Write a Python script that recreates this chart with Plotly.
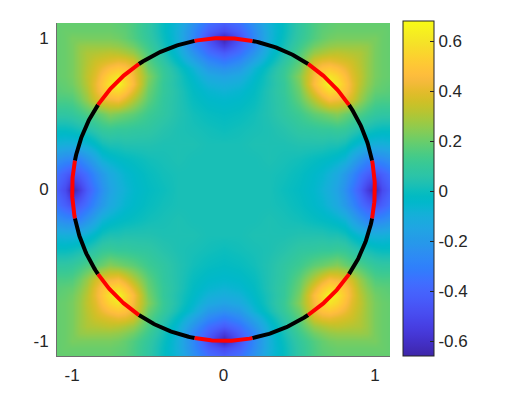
import numpy as np
import plotly.graph_objects as go

# Field, one quadrant, lower triangle (row i: x = knots[i], y = knots[0..i]).
knots = [0.0, 0.1, 0.2, 0.3, 0.4, 0.5, 0.6, 0.65, 0.7, 0.75, 0.8, 0.85, 0.9, 0.95, 1.0, 1.05, 1.1]
triangle = [
    [0.02],
    [0.02, 0.02],
    [0.02, 0.02, 0.02],
    [0.02, 0.02, 0.03, 0.03],
    [0.00, 0.01, 0.02, 0.03, 0.05],
    [-0.02, -0.01, 0.01, 0.04, 0.08, 0.12],
    [-0.05, -0.04, -0.01, 0.04, 0.09, 0.18, 0.32],
    [-0.08, -0.06, -0.02, 0.04, 0.10, 0.20, 0.40, 0.50],
    [-0.11, -0.09, -0.03, 0.03, 0.10, 0.22, 0.46, 0.56, 0.66],
    [-0.16, -0.13, -0.05, 0.03, 0.11, 0.24, 0.44, 0.54, 0.60, 0.55],
    [-0.24, -0.20, -0.08, 0.01, 0.10, 0.20, 0.42, 0.48, 0.50, 0.47, 0.42],
    [-0.33, -0.27, -0.15, -0.03, 0.07, 0.17, 0.36, 0.40, 0.41, 0.39, 0.37, 0.35],
    [-0.43, -0.36, -0.22, -0.07, 0.04, 0.15, 0.27, 0.30, 0.32, 0.33, 0.32, 0.31, 0.30],
    [-0.55, -0.42, -0.28, -0.09, 0.02, 0.12, 0.21, 0.24, 0.26, 0.27, 0.27, 0.27, 0.27, 0.26],
    [-0.66, -0.48, -0.27, -0.10, 0.00, 0.09, 0.16, 0.19, 0.21, 0.22, 0.22, 0.22, 0.22, 0.22, 0.22],
    [-0.50, -0.42, -0.26, -0.10, -0.01, 0.08, 0.15, 0.18, 0.19, 0.20, 0.20, 0.20, 0.20, 0.20, 0.20, 0.20],
    [-0.42, -0.36, -0.23, -0.09, -0.01, 0.08, 0.15, 0.17, 0.18, 0.19, 0.19, 0.19, 0.19, 0.19, 0.19, 0.19, 0.19],
]
tick_values = [-1, 0, 1]
tick_labels = ["-1", "0", "1"]
cbar_ticks = [-0.6, -0.4, -0.2, 0, 0.2, 0.4, 0.6]
cbar_labels = ["-0.6", "-0.4", "-0.2", "0", "0.2", "0.4", "0.6"]
# Arc boundaries in degrees, by colour
red_arcs = [(-11, 11), (34, 56), (79, 101), (124, 146), (169, 191), (214, 236), (259, 281), (304, 326)]
black_arcs = [(11, 34), (56, 79), (101, 124), (146, 169), (191, 214), (236, 259), (281, 304), (326, 349)]

parula = [
    (.2422,.1504,.6603),(.2504,.1650,.7076),(.2578,.1818,.7511),(.2647,.1978,.7952),(.2706,.2147,.8364),
    (.2751,.2342,.8710),(.2783,.2559,.8991),(.2803,.2782,.9221),(.2813,.3006,.9414),(.2810,.3228,.9579),
    (.2795,.3447,.9717),(.2760,.3667,.9829),(.2699,.3892,.9906),(.2602,.4123,.9952),(.2440,.4358,.9988),
    (.2206,.4603,.9973),(.1963,.4847,.9892),(.1834,.5074,.9798),(.1786,.5289,.9682),(.1764,.5499,.9520),
    (.1687,.5703,.9359),(.1540,.5902,.9218),(.1460,.6091,.9079),(.1380,.6276,.8973),(.1248,.6459,.8883),
    (.1113,.6635,.8763),(.0952,.6798,.8598),(.0689,.6948,.8394),(.0297,.7082,.8163),(.0036,.7203,.7917),
    (.0067,.7312,.7660),(.0433,.7411,.7394),(.0964,.7500,.7120),(.1408,.7584,.6842),(.1717,.7670,.6554),
    (.1938,.7758,.6251),(.2161,.7843,.5923),(.2470,.7918,.5567),(.2906,.7973,.5188),(.3406,.8008,.4789),
    (.3909,.8029,.4354),(.4456,.8024,.3909),(.5044,.7993,.3480),(.5616,.7942,.3045),(.6174,.7876,.2612),
    (.6720,.7793,.2227),(.7242,.7698,.1910),(.7738,.7598,.1646),(.8203,.7498,.1535),(.8634,.7406,.1596),
    (.9035,.7330,.1774),(.9393,.7288,.2100),(.9728,.7298,.2394),(.9956,.7434,.2371),(.9970,.7659,.2199),
    (.9952,.7893,.2028),(.9892,.8136,.1885),(.9786,.8386,.1766),(.9676,.8639,.1643),(.9610,.8890,.1537),
    (.9597,.9135,.1423),(.9628,.9373,.1265),(.9691,.9606,.1064),(.9769,.9839,.0805),
]
colorscale = [[i / (len(parula) - 1), "rgb(%d,%d,%d)" % tuple(round(c * 255) for c in p)]
              for i, p in enumerate(parula)]

n = len(knots)
q = np.zeros((n, n))
for i, row in enumerate(triangle):
    for j, v in enumerate(row):
        q[j, i] = v
        q[i, j] = v
ax = np.array(knots)
coords = np.concatenate([-ax[:0:-1], ax])
right = np.hstack([q[:, :0:-1], q])
z = np.vstack([right[:0:-1], right])

fig = go.Figure()
fig.add_trace(go.Heatmap(
    x=coords, y=coords, z=z, zsmooth="best", zmin=-0.66, zmax=0.68,
    colorscale=colorscale,
    colorbar=dict(
        x=1.039, xanchor="left", xpad=0, y=1.005, yanchor="top", ypad=0,
        lenmode="pixels", len=335, thicknessmode="pixels", thickness=31,
        tickmode="array", tickvals=cbar_ticks, ticktext=cbar_labels,
        ticks="inside", ticklen=4, tickcolor="#262626", tickwidth=1,
        outlinecolor="#262626", outlinewidth=1,
        tickfont=dict(family="Liberation Sans", size=17, color="#262626"),
    ),
))


def add_arcs(arcs, color):
    for a, b in arcs:
        t = np.deg2rad(np.linspace(a, b, 40))
        fig.add_trace(go.Scatter(x=np.cos(t), y=np.sin(t), mode="lines",
                                 line=dict(color=color, width=4),
                                 showlegend=False, hoverinfo="skip"))


add_arcs(black_arcs, "black")
add_arcs(red_arcs, "red")

axis_style = dict(
    range=[-1.1, 1.1], tickmode="array", tickvals=tick_values, ticktext=tick_labels,
    ticks="", showgrid=False, zeroline=False, showline=True,
    linecolor="#6e6e6e", linewidth=1,
    tickfont=dict(family="Liberation Sans", size=17, color="#262626"),
)
fig.update_xaxes(**axis_style, ticklabelstandoff=4)
fig.update_yaxes(**axis_style, ticklabelstandoff=4)
fig.update_layout(
    width=514, height=394, showlegend=False,
    margin=dict(l=49, r=132, t=15, b=46, autoexpand=False),
    paper_bgcolor="white", plot_bgcolor="white",
)
fig.write_html("out.html", config={"displayModeBar": False})
